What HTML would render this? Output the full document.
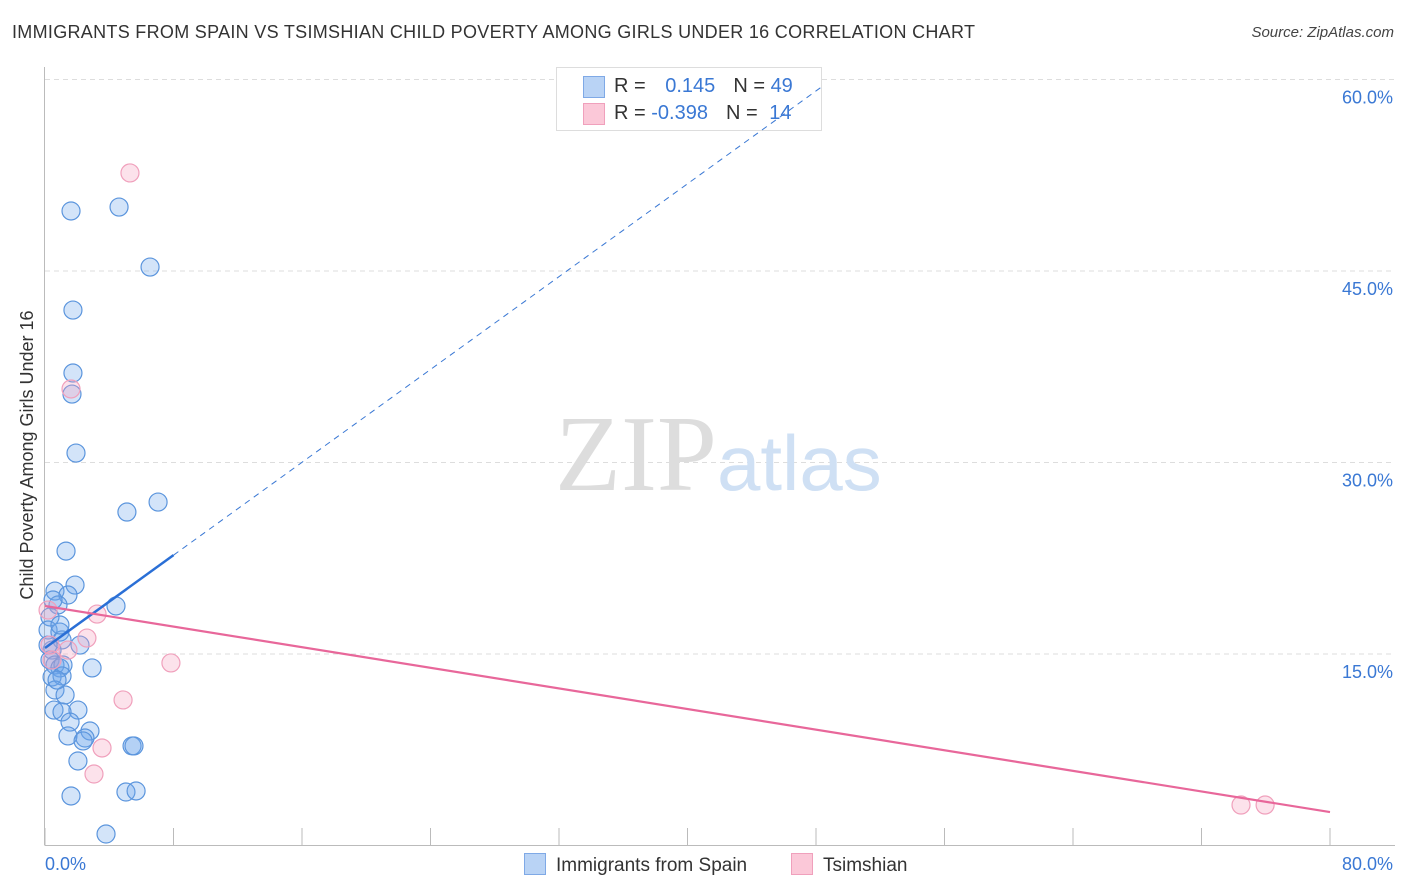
<!DOCTYPE html>
<html><head><meta charset="utf-8"><style>
body{margin:0;background:#fff;font-family:"Liberation Sans",sans-serif;}
#wrap{position:relative;width:1406px;height:892px;overflow:hidden;}
</style></head><body>
<div id="wrap">
<div style="position:absolute;left:12px;top:22px;font-size:18px;color:#333;letter-spacing:0.3px;">IMMIGRANTS FROM SPAIN VS TSIMSHIAN CHILD POVERTY AMONG GIRLS UNDER 16 CORRELATION CHART</div>
<div style="position:absolute;right:12px;top:24px;font-size:15px;color:#444;font-style:italic;">Source: ZipAtlas.com</div>
<div style="position:absolute;left:556px;top:67px;width:264px;height:62px;border:1px solid #ddd;background:#fff;font-size:20px;">
 <div style="position:absolute;left:26px;top:8px;width:20px;height:20px;background:#b9d3f5;border:1px solid #7fa9e6;"></div>
 <div style="position:absolute;left:26px;top:35px;width:20px;height:20px;background:#fbc8d8;border:1px solid #f0a0bc;"></div>
 <div style="position:absolute;left:57px;top:7px;color:#333;">R = <span style="color:#3a78d4;margin-left:14px">0.145</span><span style="color:#333;margin-left:18px">N = </span><span style="color:#3a78d4">49</span></div>
 <div style="position:absolute;left:57px;top:34px;color:#333;">R = <span style="color:#3a78d4">-0.398</span><span style="color:#333;margin-left:18px">N = </span><span style="color:#3a78d4;margin-left:6px">14</span></div>
</div>
<svg id="svg" width="1406" height="892" style="position:absolute;left:0;top:0"></svg>
</div>
<script>
const xTickVals=[0,8,16,24,32,40,48,56,64,72,80];
const yTickVals=[15,30,45,60];
const yTickLabels=["15.0%","30.0%","45.0%","60.0%"];
const blueX=[1.62,4.61,6.54,1.74,1.74,1.68,1.93,5.10,7.04,1.31,1.87,0.62,1.43,0.81,4.42,0.31,2.18,0.19,0.93,1.06,0.44,0.31,0.62,0.93,1.12,2.93,0.44,1.06,0.62,1.25,0.56,2.05,1.06,1.56,2.80,1.43,2.49,2.37,5.42,5.54,2.05,1.62,5.04,5.67,3.80,0.19,0.75,0.50,0.93];
const blueY=[49.70,50.01,45.31,41.94,37.01,35.36,30.74,26.12,26.90,23.06,20.40,19.93,19.62,18.84,18.76,17.90,15.70,16.88,16.72,16.10,15.31,14.53,14.14,13.91,14.14,13.91,13.20,13.28,12.18,11.79,10.61,10.61,10.46,9.67,8.97,8.58,8.42,8.19,7.80,7.80,6.62,3.88,4.19,4.27,0.90,15.70,12.96,19.23,17.27];
const pinkX=[5.29,1.62,3.24,2.61,1.43,0.31,7.84,4.86,3.55,3.05,74.46,75.96,0.44,0.19];
const pinkY=[52.68,35.76,18.13,16.25,15.31,15.70,14.30,11.40,7.64,5.60,3.17,3.17,14.53,18.44];
const blueTrend=[15.47,0.909];
const pinkTrend=[18.76,2.62];
const X=v=>45+v/80*1285;
const Y=v=>845.5-v/15*191.5;
const s=document.getElementById('svg');
const NS='http://www.w3.org/2000/svg';
function mk(t,a,p){const e=document.createElementNS(NS,t);for(const k in a)e.setAttribute(k,a[k]);(p||s).appendChild(e);return e;}
yTickVals.forEach((v,i)=>{
 if(v===60){
  const g1=mk('line',{x1:45,x2:555,y1:Y(v),y2:Y(v),stroke:'#ddd','stroke-dasharray':'5,4'});
  
  
  const g2=mk('line',{x1:822,x2:1395,y1:Y(v),y2:Y(v),stroke:'#ddd','stroke-dasharray':'5,4'});
  
  
 } else {
  const g=mk('line',{x1:45,x2:1395,y1:Y(v),y2:Y(v),stroke:'#ddd','stroke-dasharray':'5,4'});
  
  
 }
 const t=mk('text',{x:1393,y:Y(v)+24,'text-anchor':'end','font-size':18,fill:'#3a78d4','font-family':'Liberation Sans'});
 t.textContent=yTickLabels[i];
 
 
});
const ax=mk('line',{x1:45,x2:1395,y1:845.5,y2:845.5,stroke:'#bbb'});


const ay=mk('line',{x1:44.5,x2:44.5,y1:67,y2:845.5,stroke:'#bbb'});


xTickVals.forEach(v=>{
 const t=mk('line',{x1:X(v),x2:X(v),y1:828,y2:845,stroke:'#bbb'});
 
 
});
[[0,'0.0%',45,'start'],[80,'80.0%',1393,'end']].forEach(a=>{
 const t=mk('text',{x:a[2],y:870,'text-anchor':a[3],'font-size':18,fill:'#3a78d4','font-family':'Liberation Sans'});
 t.textContent=a[1];
 
 
});
const w=mk('text',{x:555,y:490,'text-anchor':'start','font-size':108,'font-family':'Liberation Serif',fill:'#ddd'});
w.innerHTML='ZIP<tspan font-family="Liberation Sans" font-size="78" fill="#cfe0f4">atlas</tspan>';


const yt=mk('text',{x:0,y:0,transform:'translate(33,455) rotate(-90)','text-anchor':'middle','font-size':18,fill:'#333','font-family':'Liberation Sans'});
yt.textContent='Child Poverty Among Girls Under 16';


blueX.forEach((x,i)=>{
 const c=mk('circle',{cx:X(x),cy:Y(blueY[i]),r:9,fill:'rgba(110,165,235,0.3)',stroke:'#5b95dd','stroke-width':1.2});
 
 
});
pinkX.forEach((x,i)=>{
 const c=mk('circle',{cx:X(x),cy:Y(pinkY[i]),r:9,fill:'rgba(245,160,190,0.3)',stroke:'#f0a0bc','stroke-width':1.2});
 
 
});
const bd=mk('line',{x1:X(8),y1:Y(blueTrend[0]+blueTrend[1]*8),x2:X(48.4),y2:Y(blueTrend[0]+blueTrend[1]*48.4),stroke:'#3a78d4','stroke-width':1,'stroke-dasharray':'6,5'});


const bl=mk('line',{x1:X(0),y1:Y(blueTrend[0]),x2:X(8),y2:Y(blueTrend[0]+blueTrend[1]*8),stroke:'#2a6fd6','stroke-width':2.5});


const pl=mk('line',{x1:X(0),y1:Y(pinkTrend[0]),x2:X(80),y2:Y(pinkTrend[1]),stroke:'#e8679a','stroke-width':2.2});


</script>
<div style="position:absolute;left:524px;top:853px;font-size:19px;color:#333;"><span style="display:inline-block;width:20px;height:20px;background:#b9d3f5;border:1px solid #7fa9e6;vertical-align:-4px;margin-right:10px"></span>Immigrants from Spain</div>
<div style="position:absolute;left:791px;top:853px;font-size:19px;color:#333;"><span style="display:inline-block;width:20px;height:20px;background:#fbc8d8;border:1px solid #f0a0bc;vertical-align:-4px;margin-right:10px"></span>Tsimshian</div>
</body></html>
